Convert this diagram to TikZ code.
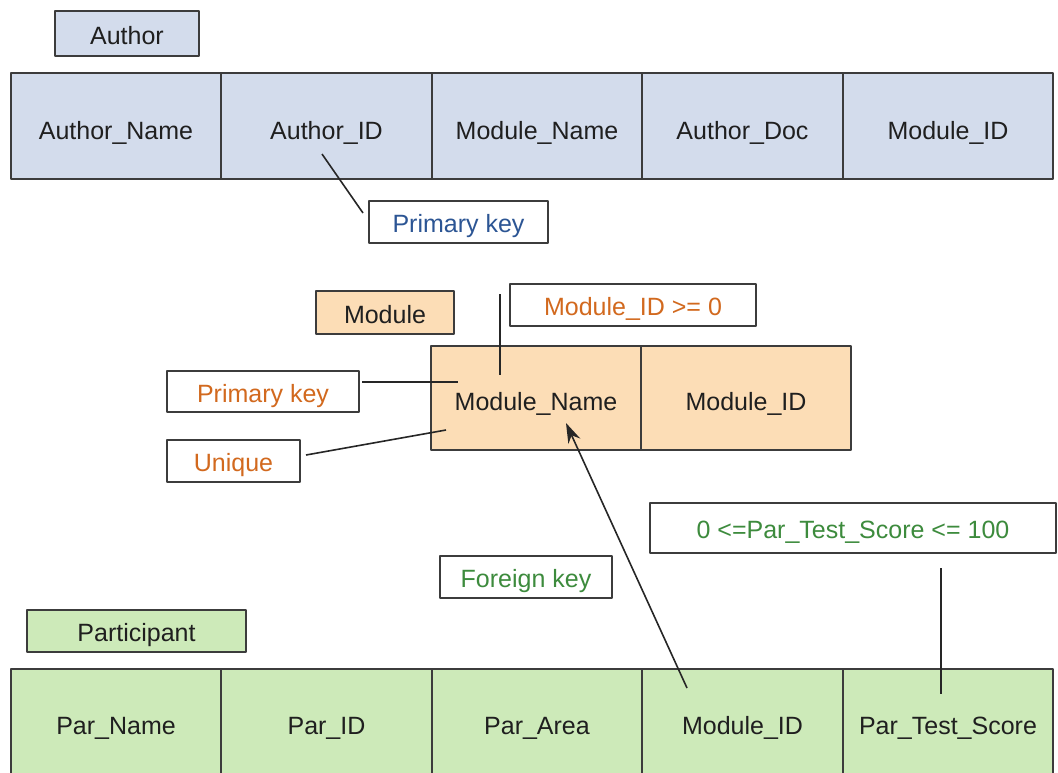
\documentclass[tikz,border=0pt]{standalone}
\usepackage{fontspec}
\setmainfont{Liberation Sans}
\usetikzlibrary{arrows.meta}
\definecolor{authfill}{HTML}{D3DCEC}
\definecolor{modfill}{HTML}{FCDDB6}
\definecolor{parfill}{HTML}{CDEAB9}
\definecolor{edge}{HTML}{3C3C3C}
\definecolor{keyblue}{HTML}{2C5594}
\definecolor{keyorange}{HTML}{D2691E}
\definecolor{keygreen}{HTML}{3D8B3D}
\tikzset{
  box/.style={draw=edge,line width=1.8pt,inner sep=0pt,outer sep=0pt,minimum height=42pt,
    text height=21pt,text depth=0pt},
  authcell/.style={box,fill=authfill,minimum height=106pt,text height=26pt},
  modcell/.style={box,fill=modfill,minimum height=104pt,minimum width=210pt,text height=25pt},
  parcell/.style={box,fill=parfill,minimum height=106pt,text height=24pt},
  note/.style={box,fill=white},
  link/.style={line width=1.6pt,draw=black!85}
}
\begin{document}
\begin{tikzpicture}[x=1pt,y=-1pt,line join=round,>={Stealth[length=20pt,width=13pt]},
  font=\fontsize{25}{30}\selectfont,text=black!88]
\useasboundingbox (0,0) rectangle (1058,772);
% Author table
\node[box,fill=authfill,minimum width=144pt,minimum height=45pt] (authlbl) at (127,33.5) {Author};
\foreach \n/\cx/\w/\t in {aname/116/210/Author\_Name,aid/326.5/211/Author\_ID,amod/537/210/Module\_Name,
    adoc/742.5/201/Author\_Doc,amid/948/210/Module\_ID}
  \node[authcell,minimum width=\w pt] (\n) at (\cx,126) {\t};
\node[note,minimum width=179pt,text=keyblue] (pkauth) at (458.5,222) {Primary key};
\coordinate (aidtail) at (322,154);
\coordinate (pkauthend) at (363,213);
\draw[link] (aidtail) -- (pkauthend);
% Module table
\node[box,fill=modfill,minimum width=138pt,minimum height=43pt] (modlbl) at (385,312.5) {Module};
\node[modcell] (mname) at (536,398) {Module\_Name};
\node[modcell] (mid) at (746,398) {Module\_ID};
\node[note,minimum width=246pt,text=keyorange] (midrule) at (633,305) {Module\_ID >= 0};
\node[note,minimum width=192pt,minimum height=41pt,text=keyorange] (pkmod) at (263,391.5) {Primary key};
\node[note,minimum width=133pt,text=keyorange] (uniq) at (233.5,461) {Unique};
\coordinate (ruletop) at (500,294);
\coordinate (rulebot) at (500,375);
\coordinate (pkmodend) at (362,382);
\coordinate (pkmodtip) at (458,382);
\coordinate (uniqend) at (306,455);
\coordinate (uniqtip) at (446,430);
\draw[link] (ruletop) -- (rulebot);
\draw[link] (pkmodend) -- (pkmodtip);
\draw[link] (uniqend) -- (uniqtip);
% Participant table
\node[box,fill=parfill,minimum width=219pt] (parlbl) at (136.5,631) {Participant};
\foreach \n/\cx/\w/\t in {pname/116/210/Par\_Name,pid/326.5/211/Par\_ID,parea/537/210/Par\_Area,
    pmid/742.5/201/Module\_ID,pscore/948/210/Par\_Test\_Score}
  \node[parcell,minimum width=\w pt] (\n) at (\cx,722) {\t};
\node[note,minimum width=172pt,text=keygreen] (fkey) at (526,577) {Foreign key};
\node[note,minimum width=406pt,minimum height=50pt,text=keygreen] (scorerule) at (853,528) {0 <=Par\_Test\_Score <= 100};
\coordinate (pmidtail) at (687,688);
\coordinate (mnametip) at (566,423);
\coordinate (scoretop) at (941,568);
\coordinate (scorebot) at (941,694);
\draw[link,->] (pmidtail) -- (mnametip);
\draw[link] (scoretop) -- (scorebot);
\end{tikzpicture}
\end{document}
